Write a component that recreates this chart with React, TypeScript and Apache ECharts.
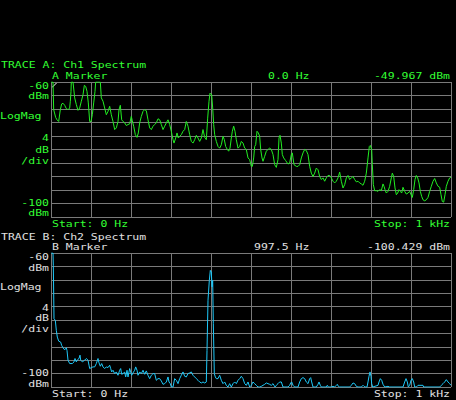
import React, { useEffect, useRef } from "react";
import * as echarts from "echarts";

// Trace A (Ch1 Spectrum) – frequency (Hz) and level (dBm)
const freqA = [0, 5, 6.7, 11.7, 15, 19.2, 23.3, 26.7, 30, 34.2, 38.3, 42.5, 46.7, 48.3, 50, 50.8, 55, 59.2, 63.3, 67.5, 71.7, 75.8, 80, 83.3, 86.7, 90, 93.3, 96.7, 100, 103.3, 106.7, 110, 111.7, 123.3, 125.8, 130, 134.2, 138.3, 142.5, 146.7, 150.8, 155, 159.2, 163.3, 167.5, 170, 173.3, 176.7, 180, 184.2, 188.3, 192.5, 196.7, 200.8, 203.3, 206.7, 210.8, 215, 218.3, 221.7, 225.8, 230, 234.2, 238.3, 242.5, 246.7, 250.8, 255, 259.2, 263.3, 267.5, 271.7, 275.8, 280, 284.2, 288.3, 292.5, 296.7, 300.8, 305, 307.5, 311.7, 315, 318.3, 321.7, 325.8, 330, 334.2, 338.3, 342.5, 346.7, 350.8, 355, 359.2, 363.3, 367.5, 371.7, 375.8, 380, 384.2, 388.3, 391.7, 395, 397.5, 401.7, 404.2, 406.7, 409.2, 413.3, 417.5, 421.7, 425.8, 430, 433.3, 436.7, 440.8, 444.2, 447.5, 450.8, 453.3, 456.7, 460, 463.3, 467.5, 471.7, 475.8, 480, 484.2, 488.3, 492.5, 496.7, 500.8, 503.3, 506.7, 509.2, 511.7, 515, 518.3, 521.7, 524.2, 527.5, 530, 534.2, 538.3, 542.5, 546.7, 550.8, 555, 559.2, 563.3, 567.5, 570, 572.5, 575.8, 578.3, 581.7, 586.7, 592.5, 596.7, 600.8, 603.3, 605, 607.5, 613.3, 617.5, 621.7, 625.8, 630, 634.2, 638.3, 642.5, 646.7, 650.8, 655, 659.2, 663.3, 667.5, 671.7, 675.8, 680, 684.2, 688.3, 692.5, 696.7, 700.8, 705, 709.2, 713.3, 717.5, 721.7, 725.8, 730, 734.2, 738.3, 742.5, 746.7, 750.8, 755, 759.2, 763.3, 767.5, 771.7, 775.8, 780, 784.2, 788.3, 792.5, 795.8, 798.3, 801.7, 803.3, 805.8, 809.2, 813.3, 817.5, 821.7, 825.8, 830, 832.5, 835, 838.3, 842.5, 846.7, 850.8, 853.3, 856.7, 860, 863.3, 866.7, 870, 873.3, 876.7, 880, 884.2, 888.3, 892.5, 896.7, 900, 903.3, 906.7, 910, 913.3, 916.7, 920, 923.3, 926.7, 930, 934.2, 938.3, 942.5, 946.7, 950.8, 955, 959.2, 963.3, 967.5, 971.7, 975, 978.3, 981.7, 985, 988.3, 992.5, 996.7, 1000];
const dbmA = [-60, -60, -68.2, -70.5, -71.2, -71.7, -68.2, -66.5, -66.3, -66.9, -67.9, -68.2, -67.7, -65.7, -62.8, -60, -60, -64.7, -66.7, -68.4, -67.7, -65.7, -63.8, -61.0, -61.3, -62.8, -66.2, -71.7, -71.7, -69.7, -66.2, -62.8, -60, -60, -64.7, -65.7, -67.7, -69.7, -68.7, -67.2, -69.7, -71.7, -74.1, -73.6, -71.7, -68.2, -66.9, -71.2, -71.7, -72.1, -72.9, -72.6, -72.4, -70.2, -71.5, -73.1, -75.6, -76.4, -75.1, -72.1, -70.2, -68.7, -68.2, -68.5, -71.2, -73.6, -74.1, -73.1, -72.6, -72.1, -70.9, -71.2, -72.6, -74.1, -73.1, -72.1, -71.2, -72.6, -74.6, -77.1, -78.1, -76.6, -75.1, -76.6, -76.1, -75.6, -74.6, -74.1, -71.7, -73.1, -75.6, -77.6, -78.1, -77.1, -75.8, -76.6, -77.6, -76.6, -74.1, -76.4, -77.1, -70.7, -65.7, -63.3, -63.8, -67.7, -72.6, -75.6, -77.6, -79.1, -79.6, -78.6, -76.1, -77.1, -79.1, -80.0, -80.5, -79.6, -76.6, -74.6, -73.1, -74.6, -77.1, -79.6, -79.1, -77.6, -78.1, -79.6, -80.0, -82.5, -83.0, -85.0, -85.0, -82.5, -79.1, -78.6, -74.6, -75.1, -76.1, -80.0, -82.5, -83.5, -82.0, -80.5, -80.0, -79.6, -80.0, -81.5, -84.5, -85.3, -83.0, -76.6, -75.8, -78.1, -81.5, -82.5, -83.3, -84.3, -84.0, -81.5, -81.0, -82.5, -84.5, -85.0, -85.0, -84.5, -82.5, -81.0, -80.0, -80.3, -81.5, -85.0, -87.0, -88.0, -87.0, -85.5, -86.0, -88.0, -88.9, -88.4, -89.4, -88.4, -87.7, -87.7, -88.4, -89.4, -89.9, -89.4, -88.4, -86.7, -89.4, -91.4, -90.4, -88.4, -87.7, -88.9, -88.4, -88.0, -88.9, -89.6, -89.4, -89.9, -90.2, -90.6, -89.4, -87.0, -82.5, -79.1, -78.8, -80.0, -84.5, -90.4, -92.2, -92.2, -92.4, -91.9, -92.2, -90.2, -90.9, -91.9, -92.9, -92.4, -90.9, -88.4, -87.0, -88.0, -91.4, -93.4, -92.9, -91.9, -92.4, -92.9, -91.2, -92.4, -93.2, -92.9, -92.4, -93.4, -94.2, -91.9, -88.9, -87.7, -88.4, -89.9, -92.4, -93.9, -94.9, -95.2, -94.9, -94.2, -92.4, -90.9, -89.4, -88.6, -89.9, -90.9, -91.2, -93.4, -95.4, -95.6, -93.4, -90.9, -89.4, -88.4, -88.2];

// Trace B (Ch2 Spectrum)
const freqB = [0, 5, 5.8, 7.5, 10.8, 13.3, 15.8, 19.2, 24.2, 26.7, 30, 34.2, 38.3, 40, 42.5, 46.7, 53.3, 57.5, 60, 63.3, 66.7, 70, 72.5, 74.2, 78.3, 84.2, 88.3, 92.5, 95, 96.7, 100.8, 105, 109.2, 113.3, 117.5, 120, 123.3, 126.7, 130, 134.2, 138.3, 142.5, 146.7, 149.2, 151.7, 155, 159.2, 163.3, 167.5, 171.7, 174.2, 176.7, 180, 184.2, 186.7, 190, 192.5, 196.7, 199.2, 201.7, 205, 209.2, 211.7, 215, 217.5, 221.7, 225.8, 230, 234.2, 238.3, 242.5, 246.7, 250.8, 255, 259.2, 263.3, 267.5, 271.7, 275.8, 280, 284.2, 288.3, 292.5, 295, 298.3, 300.8, 305, 309.2, 313.3, 317.5, 321.7, 325.8, 330, 334.2, 338.3, 342.5, 346.7, 350.8, 355, 359.2, 363.3, 367.5, 371.7, 375.8, 380, 384.2, 388.3, 390, 392.5, 395.8, 398.3, 400.8, 402.5, 404.2, 405.8, 408.3, 410.8, 413.3, 417.5, 421.7, 425.8, 430, 434.2, 438.3, 442.5, 446.7, 450.8, 455, 459.2, 463.3, 467.5, 471.7, 475.8, 480, 484.2, 488.3, 492.5, 496.7, 500.8, 505, 509.2, 513.3, 517.5, 521.7, 525.8, 530, 534.2, 538.3, 542.5, 546.7, 550.8, 555, 557.5, 560, 563.3, 567.5, 571.7, 575.8, 580, 592.5, 596.7, 599.2, 601.7, 605, 609.2, 617.5, 621.7, 625.8, 630, 634.2, 638.3, 642.5, 646.7, 649.2, 651.7, 655, 663.3, 667.5, 670, 673.3, 675.8, 688.3, 690.8, 693.3, 700.8, 705, 709.2, 713.3, 715.8, 718.3, 721.7, 746.7, 750.8, 755, 759.2, 763.3, 767.5, 775.8, 780, 782.5, 785, 790, 792.5, 795, 797.5, 800, 801.7, 804.2, 817.5, 820, 823.3, 826.7, 830, 834.2, 842.5, 846.7, 880, 884.2, 887.5, 890.8, 893.3, 896.7, 900, 903.3, 906.7, 909.2, 913.3, 917.5, 930, 931.7, 971.7, 975.8, 980, 984.2, 988.3, 992.5, 996.7, 1000];
const dbmB = [-60, -60, -63.7, -79.6, -80.1, -83.1, -85.1, -86.3, -86.6, -87.6, -88.3, -88.9, -88.3, -89.1, -92.0, -93.0, -93.0, -92.5, -91.5, -92.5, -91.8, -91.5, -90.5, -92.0, -92.5, -92.0, -91.5, -92.0, -93.5, -94.5, -94.2, -94.0, -94.0, -93.0, -91.5, -92.8, -93.8, -93.0, -94.0, -94.5, -94.0, -94.2, -93.5, -94.5, -95.5, -95.0, -96.0, -95.5, -96.5, -95.0, -94.5, -96.2, -96.0, -95.5, -97.0, -95.0, -97.0, -94.5, -95.5, -96.5, -95.8, -95.0, -94.0, -95.0, -96.5, -95.5, -96.0, -95.0, -96.2, -95.2, -96.5, -97.5, -96.5, -96.0, -96.0, -98.0, -97.5, -97.5, -98.2, -99.2, -99.0, -98.5, -97.0, -98.5, -99.0, -100, -100, -97.5, -98.0, -99.0, -97.5, -96.5, -95.5, -96.8, -97.0, -96.0, -95.8, -95.5, -96.5, -97.0, -97.5, -98.0, -98.5, -98.8, -98.5, -98.8, -98.5, -89.1, -74.1, -68.2, -65.2, -65.7, -70.1, -68.2, -81.1, -96.0, -97.0, -97.5, -97.5, -96.5, -98.0, -99.0, -98.5, -99.5, -100, -99.0, -100, -99.0, -98.5, -99.0, -98.0, -97.5, -96.8, -97.5, -99.0, -99.5, -98.5, -100, -99.5, -98.5, -99.0, -99.5, -100, -100, -99.8, -99.5, -99.2, -98.8, -99.0, -99.2, -99.5, -99.0, -99.5, -100, -99.5, -99.0, -98.5, -98.5, -100, -100, -99.5, -98.8, -98.5, -99.5, -100, -100, -98.5, -97.5, -97.2, -97.5, -98.5, -99.0, -97.5, -97.2, -98.5, -100, -100, -99.2, -98.5, -99.5, -100, -100, -99.5, -100, -100, -99.8, -100, -99.5, -99.2, -99.8, -100, -100, -99.5, -98.8, -99.0, -99.8, -100, -100, -99.5, -99.8, -100, -100, -98.5, -96.8, -95.5, -96.8, -99.0, -100, -99.5, -98.5, -97.5, -98.0, -99.2, -100, -99.8, -100, -100, -98.5, -97.5, -98.5, -100, -99.5, -98.0, -97.5, -98.5, -100, -100, -99.5, -99.5, -100, -100, -99.5, -99.0, -98.5, -97.8, -98.5, -99.0, -99.5];

const GREEN_TEXT = "#33ff33";
const GREEN_TRACE = "#22ee22";
const CYAN_TRACE = "#1ec8f8";
const GREY_TEXT = "#e0e0e0";
const GRID = "#7a7a7a";
const FONT = "11.5px 'DejaVu Sans Mono', monospace";
const SQUASH = 0.78;

// [text, x, y-centre, align]
type Lbl = [string, number, number, "left" | "right"];

const labelsA: Lbl[] = [
  ["TRACE A: Ch1 Spectrum", 1, 65, "left"],
  ["A Marker", 52, 75.5, "left"],
  ["0.0 Hz", 268, 75.5, "left"],
  ["-49.967 dBm", 450, 75.5, "right"],
  ["-60", 49, 85.5, "right"],
  ["dBm", 49, 96, "right"],
  ["LogMag", 0, 116, "left"],
  ["4", 49, 137.5, "right"],
  ["dB", 49, 149.5, "right"],
  ["/div", 49, 160.5, "right"],
  ["-100", 49, 203, "right"],
  ["dBm", 49, 213, "right"],
  ["Start: 0 Hz", 52, 224, "left"],
  ["Stop: 1 kHz", 450, 224, "right"],
];

const labelsB: Lbl[] = [
  ["TRACE B: Ch2 Spectrum", 1, 236.5, "left"],
  ["B Marker", 52, 246.5, "left"],
  ["997.5 Hz", 254, 246.5, "left"],
  ["-100.429 dBm", 450, 246.5, "right"],
  ["-60", 49, 257, "right"],
  ["dBm", 49, 267.5, "right"],
  ["LogMag", 0, 287, "left"],
  ["4", 49, 307.5, "right"],
  ["dB", 49, 318, "right"],
  ["/div", 49, 329, "right"],
  ["-100", 49, 373, "right"],
  ["dBm", 49, 383.5, "right"],
  ["Start: 0 Hz", 52, 393.5, "left"],
  ["Stop: 1 kHz", 450, 393.5, "right"],
];

function textEls(list: Lbl[], color: string) {
  return list.map(([text, x, y, align]) => ({
    type: "text",
    silent: true,
    x,
    y,
    scaleY: SQUASH,
    style: {
      text,
      x: 0,
      y: 0,
      fill: color,
      font: FONT,
      textAlign: align,
      align,
      textVerticalAlign: "middle",
      verticalAlign: "middle",
    },
  }));
}

function xAxisDef(gridIndex: number) {
  return {
    type: "value",
    gridIndex,
    min: 0,
    max: 1000,
    interval: 100,
    axisLabel: { show: false },
    axisTick: { show: false },
    axisLine: { show: false },
    splitLine: { show: true, lineStyle: { color: GRID, width: 1 } },
  };
}

function yAxisDef(gridIndex: number) {
  return {
    type: "value",
    gridIndex,
    min: -100,
    max: -60,
    interval: 4,
    axisLabel: { show: false },
    axisTick: { show: false },
    axisLine: { show: false },
    splitLine: { show: true, lineStyle: { color: GRID, width: 1 } },
  };
}

export default function App() {
  const ref = useRef<HTMLDivElement>(null);
  useEffect(() => {
    if (!ref.current) return;
    const chart = echarts.init(ref.current, null, { renderer: "svg" });
    const dataA = freqA.map((f, i) => [f, dbmA[i]]);
    const dataB = freqB.map((f, i) => [f, dbmB[i]]);
    chart.setOption({
      animation: false,
      backgroundColor: "#000000",
      grid: [
        { left: 51, top: 82, width: 400, height: 135 },
        { left: 51, top: 253, width: 400, height: 134 },
      ],
      xAxis: [xAxisDef(0), xAxisDef(1)],
      yAxis: [yAxisDef(0), yAxisDef(1)],
      series: [
        {
          type: "line",
          xAxisIndex: 0,
          yAxisIndex: 0,
          data: dataA,
          showSymbol: false,
          clip: true,
          lineStyle: { color: GREEN_TRACE, width: 1 },
          itemStyle: { color: GREEN_TRACE },
        },
        {
          type: "line",
          xAxisIndex: 1,
          yAxisIndex: 1,
          data: dataB,
          showSymbol: false,
          clip: true,
          lineStyle: { color: CYAN_TRACE, width: 1 },
          itemStyle: { color: CYAN_TRACE },
        },
      ],
      graphic: [
        ...textEls(labelsA, GREEN_TEXT),
        ...textEls(labelsB, GREY_TEXT),
        {
          type: "line",
          silent: true,
          shape: { x1: 52, y1: 87.5, x2: 57.5, y2: 82 },
          style: { stroke: "#ffffff", lineWidth: 1 },
        },
      ],
    });
    return () => chart.dispose();
  }, []);
  return (
    <div style={{ position: "fixed", left: 0, top: 0, width: 456, height: 400, background: "#000" }}>
      <div ref={ref} style={{ width: 456, height: 400 }} />
    </div>
  );
}
